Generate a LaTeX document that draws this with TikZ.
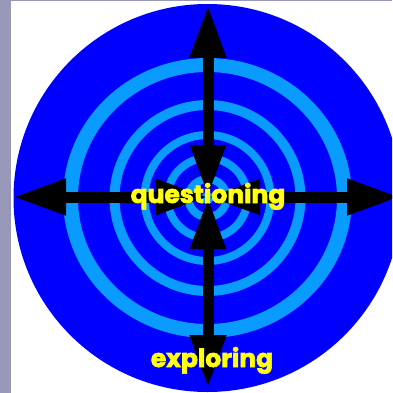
\documentclass[tikz,border=0pt]{standalone}
\usepackage{fontspec}
\newfontfamily\labfont{Poppins}[BoldFeatures={FakeBold=2.5}]
\usetikzlibrary{arrows.meta}
\definecolor{bgblue}{HTML}{0000FF}
\definecolor{ringblue}{HTML}{0A9BFF}
\definecolor{stripgray}{HTML}{9898B8}
\definecolor{labyellow}{HTML}{FFFF10}
\begin{document}
\begin{tikzpicture}[x=1pt,y=-1pt,
  ringstyle/.style={fill=ringblue, even odd rule},
  arm/.style={line width=11pt, draw=black,
    {Triangle[length=52pt,width=33pt]}-{Triangle[length=53pt,width=34pt]}},
  lab/.style={text=labyellow, font=\labfont\bfseries\fontsize{25}{25}\selectfont, anchor=base, inner sep=0pt}]
\useasboundingbox (0,0) rectangle (392,393);
\clip (0,0) rectangle (392,393);
\fill[white] (0,0) rectangle (392,393);
\fill[stripgray] (0,0) rectangle (11,393);
\fill[stripgray] (0,0) rectangle (392,1.5);
\coordinate (rc) at (207.5,198);
\coordinate (c) at (208,197);
\fill[bgblue] (rc) circle (194pt);
\fill[ringstyle] (rc) ellipse [x radius=144.5pt, y radius=140pt] (rc) ellipse [x radius=129.5pt, y radius=126pt];
\fill[ringstyle] (rc) circle (98pt) (rc) circle (88pt);
\fill[ringstyle] (rc) circle (67pt) (rc) circle (59pt);
\fill[ringstyle] (rc) circle (44pt) (rc) circle (36pt);
\fill[ringstyle] (rc) circle (23pt) (rc) circle (15pt);
\fill[ringblue] (rc) circle (6pt);
\coordinate (top) at (208,5);
\coordinate (bot) at (208,388);
\coordinate (lft) at (13,197);
\coordinate (rgt) at (400,197);
\draw[arm] (c) -- (top);
\draw[arm] (c) -- (bot);
\draw[arm] (c) -- (lft);
\draw[arm] (c) -- (rgt);
\node[lab] (q) at (208,203) {questioning};
\node[lab] (e) at (212,367) {exploring};
\end{tikzpicture}
\end{document}
